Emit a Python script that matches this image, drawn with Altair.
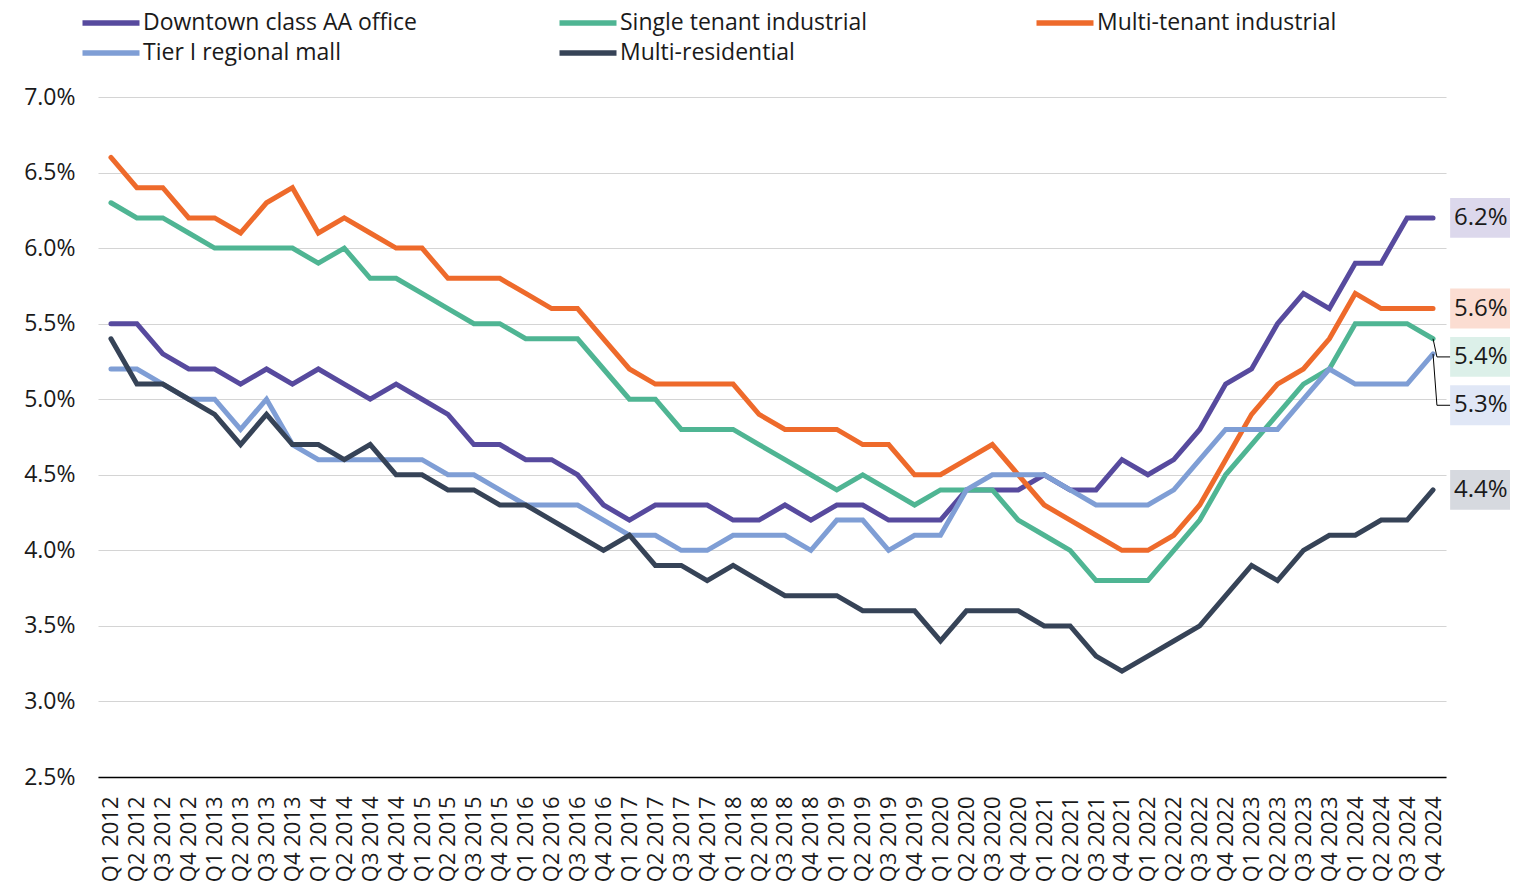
import json
import altair as alt
import pandas as pd

# ---------------- data ----------------
quarters = [f"Q{q} {y}" for y in range(2012, 2025) for q in range(1, 5)]

series_names = [
    "Downtown class AA office",
    "Single tenant industrial",
    "Multi-tenant industrial",
    "Tier I regional mall",
    "Multi-residential",
]

downtown_office = [
    5.5, 5.5, 5.3, 5.2, 5.2, 5.1, 5.2, 5.1, 5.2, 5.1, 5.0, 5.1, 5.0, 4.9, 4.7, 4.7,
    4.6, 4.6, 4.5, 4.3, 4.2, 4.3, 4.3, 4.3, 4.2, 4.2, 4.3, 4.2, 4.3, 4.3, 4.2, 4.2,
    4.2, 4.4, 4.4, 4.4, 4.5, 4.4, 4.4, 4.6, 4.5, 4.6, 4.8, 5.1, 5.2, 5.5, 5.7, 5.6,
    5.9, 5.9, 6.2, 6.2,
]
single_tenant = [
    6.3, 6.2, 6.2, 6.1, 6.0, 6.0, 6.0, 6.0, 5.9, 6.0, 5.8, 5.8, 5.7, 5.6, 5.5, 5.5,
    5.4, 5.4, 5.4, 5.2, 5.0, 5.0, 4.8, 4.8, 4.8, 4.7, 4.6, 4.5, 4.4, 4.5, 4.4, 4.3,
    4.4, 4.4, 4.4, 4.2, 4.1, 4.0, 3.8, 3.8, 3.8, 4.0, 4.2, 4.5, 4.7, 4.9, 5.1, 5.2,
    5.5, 5.5, 5.5, 5.4,
]
multi_tenant = [
    6.6, 6.4, 6.4, 6.2, 6.2, 6.1, 6.3, 6.4, 6.1, 6.2, 6.1, 6.0, 6.0, 5.8, 5.8, 5.8,
    5.7, 5.6, 5.6, 5.4, 5.2, 5.1, 5.1, 5.1, 5.1, 4.9, 4.8, 4.8, 4.8, 4.7, 4.7, 4.5,
    4.5, 4.6, 4.7, 4.5, 4.3, 4.2, 4.1, 4.0, 4.0, 4.1, 4.3, 4.6, 4.9, 5.1, 5.2, 5.4,
    5.7, 5.6, 5.6, 5.6,
]
regional_mall = [
    5.2, 5.2, 5.1, 5.0, 5.0, 4.8, 5.0, 4.7, 4.6, 4.6, 4.6, 4.6, 4.6, 4.5, 4.5, 4.4,
    4.3, 4.3, 4.3, 4.2, 4.1, 4.1, 4.0, 4.0, 4.1, 4.1, 4.1, 4.0, 4.2, 4.2, 4.0, 4.1,
    4.1, 4.4, 4.5, 4.5, 4.5, 4.4, 4.3, 4.3, 4.3, 4.4, 4.6, 4.8, 4.8, 4.8, 5.0, 5.2,
    5.1, 5.1, 5.1, 5.3,
]
multi_residential = [
    5.4, 5.1, 5.1, 5.0, 4.9, 4.7, 4.9, 4.7, 4.7, 4.6, 4.7, 4.5, 4.5, 4.4, 4.4, 4.3,
    4.3, 4.2, 4.1, 4.0, 4.1, 3.9, 3.9, 3.8, 3.9, 3.8, 3.7, 3.7, 3.7, 3.6, 3.6, 3.6,
    3.4, 3.6, 3.6, 3.6, 3.5, 3.5, 3.3, 3.2, 3.3, 3.4, 3.5, 3.7, 3.9, 3.8, 4.0, 4.1,
    4.1, 4.2, 4.2, 4.4,
]

y_ticks = [2.5, 3.0, 3.5, 4.0, 4.5, 5.0, 5.5, 6.0, 6.5, 7.0]

# ---------------- styling ----------------
line_colors = ["#574A9E", "#4FB593", "#EE6A2B", "#7F9ED5", "#364357"]
box_colors = ["#DCD8EC", "#DCF0E9", "#FBDDD2", "#E0E7F6", "#D6D9DF"]
FONT = "Open Sans"
TEXT = "#1a1a1a"

all_values = [downtown_office, single_tenant, multi_tenant, regional_mall, multi_residential]

rows = []
for name, vals in zip(series_names, all_values):
    for i, (q, v) in enumerate(zip(quarters, vals)):
        rows.append({"idx": i, "quarter": q, "series": name, "value": v})
df = pd.DataFrame(rows)

last_idx = len(quarters) - 1

# end labels with simple downward dodging
ends = sorted(
    [(name, vals[-1], bg) for name, vals, bg in zip(series_names, all_values, box_colors)],
    key=lambda t: -t[1],
)
label_rows, leader_rows = [], []
prev = None
sep = 0.32
for name, v, bg in ends:
    ly = v if prev is None else min(v, prev - sep)
    prev = ly
    label_rows.append({
        "series": name, "value": v, "ly": ly, "bg": bg,
        "text": f"{v:.1f}%",
        "x1": last_idx + 0.66, "x2": last_idx + 2.98, "xc": last_idx + 1.84,
        "y1": ly - 0.132, "y2": ly + 0.132,
    })
    if abs(ly - v) > 1e-9:
        leader_rows += [
            {"series": name, "o": 0, "lx": last_idx, "lyv": v},
            {"series": name, "o": 1, "lx": last_idx + 0.15, "lyv": ly},
            {"series": name, "o": 2, "lx": last_idx + 0.67, "lyv": ly},
        ]
labels_df = pd.DataFrame(label_rows)
leaders_df = pd.DataFrame(leader_rows)

label_expr = json.dumps(quarters) + "[datum.value]"

x_scale = alt.Scale(domain=[-0.5, len(quarters) - 0.5], nice=False, zero=False)
y_scale = alt.Scale(domain=[2.5, 7.0], nice=False, zero=False)

x_axis = alt.Axis(
    values=list(range(len(quarters))), labelExpr=label_expr, labelAngle=270,
    labelAlign="right", labelBaseline="middle",
    ticks=False, grid=False, domain=True, domainColor="#000000", domainWidth=1.5,
    labelFontSize=22, labelFont=FONT, labelColor=TEXT, labelPadding=19,
    labelFlush=False, labelOverlap=False, labelBound=False, title=None,
)
y_axis = alt.Axis(
    values=y_ticks, labelExpr="format(datum.value, '.1f') + '%'",
    ticks=False, domain=False, grid=True, gridColor="#d4d4d4", gridWidth=1.2,
    labelFontSize=23, labelFont=FONT, labelColor=TEXT, labelPadding=23,
    labelOverlap=False, title=None,
)

lines = alt.Chart(df).mark_line(strokeWidth=5, strokeCap="round", strokeJoin="miter").encode(
    x=alt.X("idx:Q", scale=x_scale, axis=x_axis, title=None),
    y=alt.Y("value:Q", scale=y_scale, axis=y_axis, title=None),
    color=alt.Color(
        "series:N",
        scale=alt.Scale(domain=series_names, range=line_colors),
        sort=series_names,
        title=None,
        legend=alt.Legend(
            orient="none", legendX=0, legendY=-87, direction="horizontal", columns=3,
            gridAlign="all",
            symbolType="M-2.85,0H2.85", symbolSize=400, symbolStrokeWidth=5.5,
            labelFontSize=23, labelFont=FONT, labelColor=TEXT, labelOffset=19,
            columnPadding=131, rowPadding=5, padding=0, labelLimit=400,
        ),
    ),
    order=alt.Order("idx:Q"),
)

leaders = alt.Chart(leaders_df).mark_line(strokeWidth=1, color="#000000").encode(
    x=alt.X("lx:Q", scale=x_scale, axis=x_axis, title=None),
    y=alt.Y("lyv:Q", scale=y_scale, axis=y_axis, title=None),
    detail="series:N",
    order=alt.Order("o:Q"),
)

boxes = alt.Chart(labels_df).mark_rect().encode(
    x=alt.X("x1:Q", scale=x_scale, axis=x_axis, title=None),
    x2="x2:Q",
    y=alt.Y("y1:Q", scale=y_scale, axis=y_axis, title=None),
    y2="y2:Q",
    fill=alt.Fill("bg:N", scale=None),
)

texts = alt.Chart(labels_df).mark_text(
    font=FONT, fontSize=24, color=TEXT, align="center", baseline="middle"
).encode(
    x=alt.X("xc:Q", scale=x_scale, axis=x_axis, title=None),
    y=alt.Y("ly:Q", scale=y_scale, axis=y_axis, title=None),
    text="text:N",
)

chart = (
    alt.layer(lines, leaders, boxes, texts)
    .properties(
        width=1348, height=680,
        autosize=alt.AutoSizeParams(type="none"),
        padding={"left": 90, "top": 89, "right": 64, "bottom": 105},
    )
    .configure(font=FONT)
    .configure_view(strokeWidth=0, stroke="transparent")
)

chart.save("out.html", embed_options={"renderer": "svg", "actions": False})
